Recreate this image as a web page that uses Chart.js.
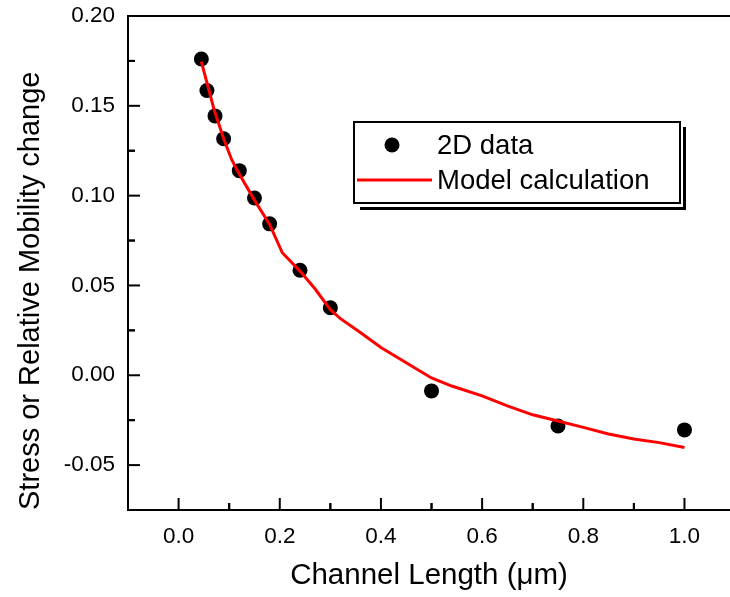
<!DOCTYPE html>
<html><head><meta charset="utf-8">
<script src="https://cdn.jsdelivr.net/npm/chart.js@4/dist/chart.umd.min.js"></script>
<style>html,body{margin:0;padding:0;background:#fff;overflow:hidden}canvas{display:block}</style>
</head><body>
<canvas id="c" width="730" height="597"></canvas>
<script>
// ---- data ----
const dataLengths = [0.045, 0.056, 0.072, 0.089, 0.12, 0.15, 0.18, 0.24, 0.30, 0.50, 0.75, 1.00];
const dataValues  = [0.1761, 0.1585, 0.1444, 0.1317, 0.1139, 0.0987, 0.0843, 0.0585, 0.0376, -0.0087, -0.0282, -0.0304];
const modelLengths = [0.045, 0.055, 0.07, 0.09, 0.105, 0.12, 0.15, 0.18, 0.205, 0.24, 0.27, 0.30, 0.32, 0.36, 0.40, 0.45, 0.50, 0.54, 0.60, 0.65, 0.70, 0.75, 0.80, 0.85, 0.90, 0.95, 1.00];
const modelValues  = [0.1746, 0.1640, 0.1480, 0.1310, 0.1200, 0.1120, 0.0975, 0.0840, 0.0682, 0.0580, 0.0480, 0.0365, 0.0315, 0.0237, 0.0155, 0.0070, -0.0015, -0.0060, -0.0115, -0.0170, -0.0220, -0.0255, -0.0290, -0.0327, -0.0355, -0.0375, -0.0402];
const seriesLabels = ['2D data', 'Model calculation'];
const xTickValues = [0.0, 0.2, 0.4, 0.6, 0.8, 1.0];
const yTickValues = [-0.05, 0.00, 0.05, 0.10, 0.15, 0.20];
const xTitle = 'Channel Length (\u03bcm)';
const yTitle = 'Stress or Relative Mobility change';

const FONT = "'Liberation Sans', Arial, Helvetica, sans-serif";

const framePlugin = {
  id: 'frame',
  afterDraw(chart) {
    const {ctx, chartArea: a, scales: {x, y}} = chart;
    ctx.save();
    ctx.strokeStyle = '#000';
    ctx.lineWidth = 2;
    const seg = (x1, y1, x2, y2) => { ctx.beginPath(); ctx.moveTo(x1, y1); ctx.lineTo(x2, y2); ctx.stroke(); };
    seg(a.left - 1, a.top, a.right, a.top);
    const major = 12, minor = 7;
    const xt = x.ticks.map(t => t.value), yt = y.ticks.map(t => t.value);
    xt.forEach(v => { const p = x.getPixelForValue(v); seg(p, a.bottom, p, a.bottom - major); });
    for (let i = 0; i < xt.length; i++) {
      const step = (xt[1] - xt[0]) / 2;
      [xt[i] - step, xt[i] + step].forEach(v => {
        if (v > x.min + 1e-9 && v < x.max) { const p = x.getPixelForValue(v); seg(p, a.bottom, p, a.bottom - minor); }
      });
    }
    yt.forEach(v => { const p = y.getPixelForValue(v); seg(a.left, p, a.left + major, p); });
    for (let i = 0; i < yt.length; i++) {
      const step = (yt[1] - yt[0]) / 2;
      [yt[i] - step, yt[i] + step].forEach(v => {
        if (v > y.min + 1e-9 && v < y.max - 1e-9) { const p = y.getPixelForValue(v); seg(a.left, p, a.left + minor, p); }
      });
    }
    ctx.restore();
  }
};

const legendPlugin = {
  id: 'boxLegend',
  afterDraw(chart) {
    const ctx = chart.ctx;
    const ds = chart.data.datasets;
    const bx = 354, by = 122, bw = 326, bh = 81;
    ctx.save();
    ctx.fillStyle = '#fff';
    ctx.fillRect(bx, by, bw, bh);
    ctx.strokeStyle = '#000';
    ctx.lineWidth = 2;
    ctx.strokeRect(bx, by, bw, bh);
    ctx.lineWidth = 3;
    ctx.beginPath();
    ctx.moveTo(bx + bw + 4.5, by + 5);
    ctx.lineTo(bx + bw + 4.5, by + bh + 5.5);
    ctx.lineTo(bx + 6, by + bh + 5.5);
    ctx.stroke();
    ctx.font = "27.5px " + FONT;
    ctx.fillStyle = '#000';
    ctx.textBaseline = 'middle';
    ctx.textAlign = 'left';
    const sc = ds[0];
    ctx.beginPath();
    ctx.arc(392, 145, sc.pointRadius, 0, Math.PI * 2);
    ctx.fillStyle = sc.backgroundColor;
    ctx.fill();
    ctx.fillStyle = '#000';
    ctx.fillText(sc.label, 437, 146);
    const ln = ds[1];
    ctx.strokeStyle = ln.borderColor;
    ctx.lineWidth = ln.borderWidth;
    ctx.beginPath();
    ctx.moveTo(357, 180);
    ctx.lineTo(432, 180);
    ctx.stroke();
    ctx.fillText(ln.label, 437, 181);
    ctx.restore();
  }
};

const noPad = s => { s.paddingTop = 0; s.paddingBottom = 0; s.paddingLeft = 0; s.paddingRight = 0; };

new Chart(document.getElementById('c'), {
  type: 'scatter',
  data: {
    datasets: [
      {
        label: seriesLabels[0],
        data: dataLengths.map((v, i) => ({x: v, y: dataValues[i]})),
        backgroundColor: '#000',
        borderColor: '#000',
        pointRadius: 7.5,
        pointHoverRadius: 7.5,
        pointBorderWidth: 0,
        showLine: false,
        order: 2
      },
      {
        label: seriesLabels[1],
        data: modelLengths.map((v, i) => ({x: v, y: modelValues[i]})),
        borderColor: '#ff0000',
        backgroundColor: '#ff0000',
        borderWidth: 3,
        pointRadius: 0,
        pointHoverRadius: 0,
        showLine: true,
        tension: 0,
        order: 1
      }
    ]
  },
  options: {
    responsive: false,
    animation: false,
    events: [],
    layout: {autoPadding: false, padding: {top: 16, left: 0, right: 0, bottom: 0}},
    plugins: {legend: {display: false}, tooltip: {enabled: false}},
    scales: {
      x: {
        type: 'linear', min: -0.1, max: 1.09,
        afterBuildTicks: s => { s.ticks = xTickValues.map(v => ({value: v})); },
        afterFit: s => { s.height = 87; noPad(s); },
        grid: {drawOnChartArea: false, drawTicks: false},
        border: {display: true, color: '#000', width: 2},
        ticks: {color: '#000', font: {family: FONT, size: 22.5}, padding: 13, maxRotation: 0, autoSkip: false,
                callback: v => Number(v).toFixed(1)},
        title: {display: true, text: xTitle, color: '#000', font: {family: FONT, size: 29.5, lineHeight: 1.2}, padding: {top: 0, bottom: 3}}
      },
      y: {
        type: 'linear', min: -0.075, max: 0.20,
        afterBuildTicks: s => { s.ticks = yTickValues.map(v => ({value: v})); },
        afterFit: s => { s.width = 128; noPad(s); },
        grid: {drawOnChartArea: false, drawTicks: false},
        border: {display: true, color: '#000', width: 2},
        ticks: {color: '#000', font: {family: FONT, size: 22.5}, padding: 13, autoSkip: false,
                callback: v => Number(v).toFixed(2)},
        title: {display: true, text: yTitle, align: 'start', color: '#000', font: {family: FONT, size: 29, lineHeight: 1.2}, padding: {top: 14, bottom: 0}}
      }
    }
  },
  plugins: [framePlugin, legendPlugin]
});
</script>
</body></html>
